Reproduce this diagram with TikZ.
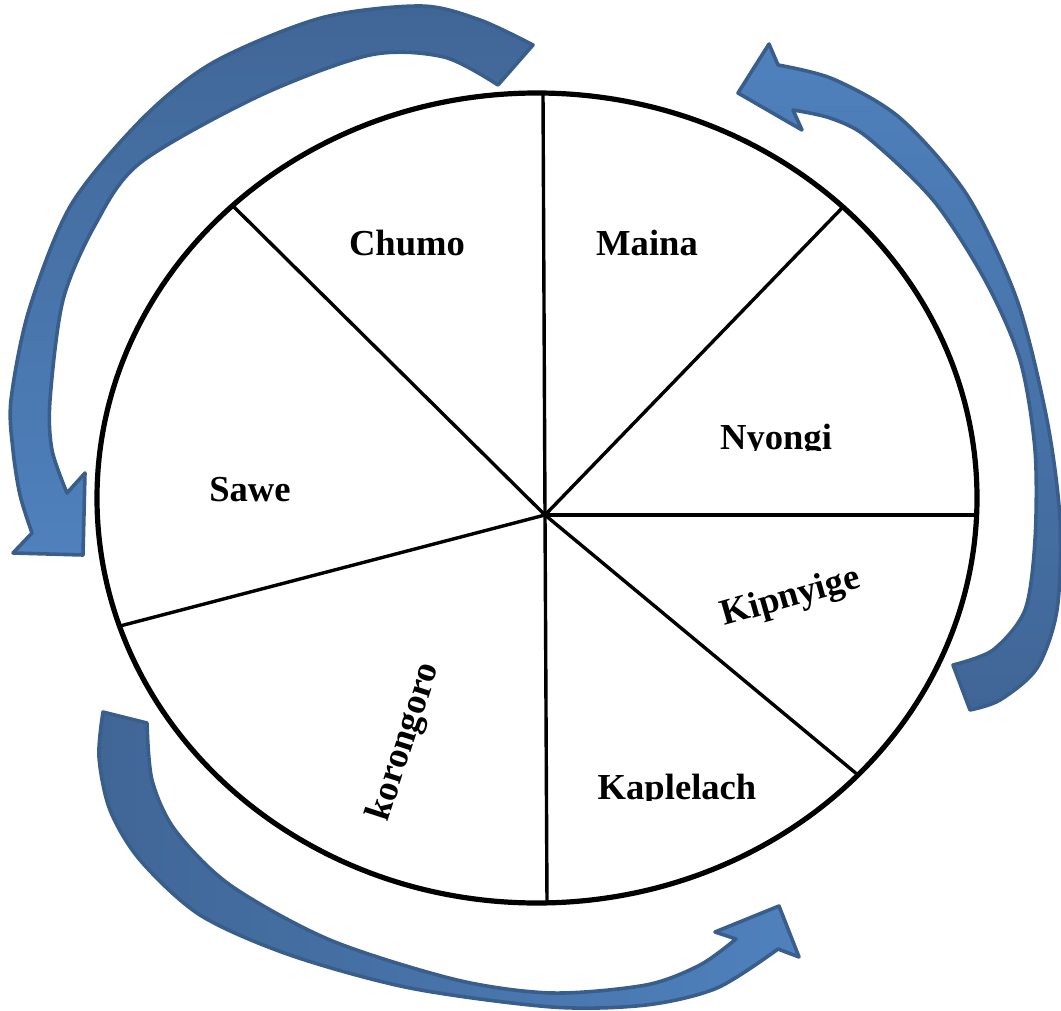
\documentclass[tikz,border=0pt]{standalone}
\usepackage{fontspec}
\setmainfont{Liberation Serif}
\usepackage{xcolor}
\usepackage{tikz}
\usetikzlibrary{shadings}
\definecolor{arrowlight}{RGB}{79,129,189}
\definecolor{arrowdark}{RGB}{64,102,150}
\definecolor{arrowedge}{RGB}{58,94,140}
\tikzset{
    rim/.style = {draw=black, line width=2.6pt},
    spoke/.style = {draw=black, line width=1.7pt},
    sector/.style = {align=center, inner sep=0pt, font=\bfseries\fontsize{18.3}{22}\selectfont},
    bluearrow/.style = {draw=arrowedge, line width=1.8pt, line join=round}
}

\begin{document}
\begin{tikzpicture}[x=0.5pt, y=-0.5pt]
            \useasboundingbox (0,0) rectangle (1061,1011);

            \draw [rim] (537,498) ellipse [x radius=440, y radius=405];

            \coordinate (hub) at (545,515);
            \coordinate (rimN)  at (543,93);
            \coordinate (rimNE) at (843,207);
            \coordinate (rimE)  at (977,515);
            \coordinate (rimSE) at (858,775);
            \coordinate (rimS)  at (547,903);
            \coordinate (rimSW) at (120,626);
            \coordinate (rimNW) at (233,206);
            \foreach \e in {rimN, rimNE, rimE, rimSE, rimS, rimSW, rimNW}
                \draw [spoke] (hub) -- (\e);

            \node [sector] (chumo) at (407,243) {Chumo};
            \node [sector] (maina) at (647,243) {Maina};
            \node [sector] (sawe) at (250,490) {Sawe};
            \node [sector, rotate=16] (kipnyige) at (791,598) {Kipnyige};
            \node [sector, rotate=72] (korongoro) at (405,742) {korongoro};
            \begin{scope}
                \clip (690,400) rectangle (870,450);
                \node [sector, anchor=base] (nyongi) at (776,449) {Nyongi};
            \end{scope}
            \begin{scope}
                \clip (580,750) rectangle (780,800);
                \node [sector, anchor=base] (kaplelach) at (677,799) {Kaplelach};
            \end{scope}

            \draw [bluearrow, top color=arrowdark, bottom color=arrowlight]
                plot [smooth] coordinates {(533,45) (480,20) (421,6) (321,18) (214,62) (143,118) (71,205) (29,310) (11,400) (13,450) (20,495) (32,533)}
                -- (13,553) -- (83,555) -- (85,473) --
                plot [smooth] coordinates {(67,493) (52,450) (50,400) (63,300) (95,225) (140,163) (259,96) (370,55) (444,57) (498,85)}
                -- cycle;

            \draw [bluearrow, top color=arrowlight, bottom color=arrowdark]
                (769,44) -- (738,93) -- (802,130) --
                plot [smooth] coordinates {(793,110) (830,118) (867,137) (933,200) (985,280) (1020,360) (1035,450) (1035,540) (1025,610) (993,650) (953,665)}
                -- plot [smooth] coordinates {(970,710) (1000,700) (1037,668) (1057,610) (1060,520) (1047,420) (1017,300) (967,195) (900,118) (833,79) (778,65)}
                -- cycle;

            \draw [bluearrow, left color=arrowdark, right color=arrowlight]
                plot [smooth] coordinates {(103,712) (99,757) (110,810) (140,860) (200,915) (290,955) (410,988) (552,1007) (646,1005) (717,988) (778,949)}
                -- (799,957) -- (779,906) -- (715,932) --
                plot [smooth] coordinates {(736,939) (700,965) (646,985) (552,993) (457,980) (330,940) (230,885) (175,830) (152,780) (147,723)}
                -- cycle;
\end{tikzpicture}
\end{document}
